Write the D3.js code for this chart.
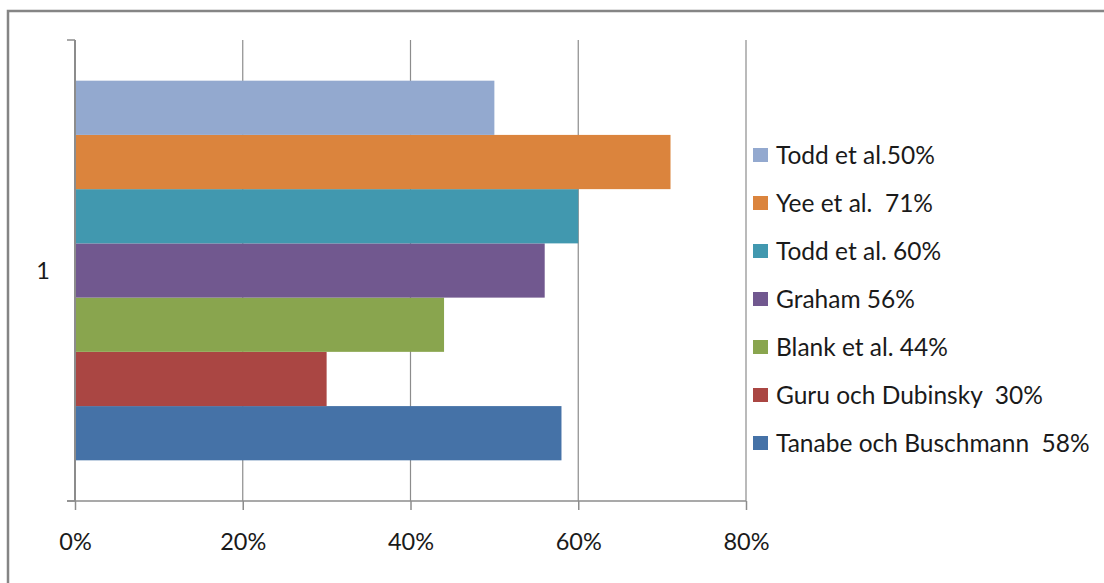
<!DOCTYPE html>
<html>
  <head>
    <meta charset="utf-8">
    <title>Studier</title>
    <script src="https://d3js.org/d3.v7.min.js"></script>
    <style>
      body { margin: 0; background: #fff; }
      svg text { font-family: Lato, "Open Sans", sans-serif; fill: #1a1a1a; }
    </style>
  </head>
  <body>
    <svg width="1104" height="583"></svg>
    <script>
    // series in Excel order: first one is drawn at the bottom
    var series = ["Tanabe och Buschmann  58%", "Guru och Dubinsky  30%", "Blank et al. 44%",
                  "Graham 56%", "Todd et al. 60%", "Yee et al.  71%", "Todd et al.50%"];
    var values = [0.58, 0.30, 0.44, 0.56, 0.60, 0.71, 0.50];
    var colors = ["#4572A7", "#AA4643", "#89A54E", "#71588F", "#4198AF", "#DB843D", "#93A9CF"];
    var categories = ["1"];
    var xTicks = [0, 0.2, 0.4, 0.6, 0.8];

    var svg = d3.select("svg");

    //outer chart border (right and bottom fall outside the picture)
    svg.append("rect")
        .attr("x", 8).attr("y", 11)
        .attr("width", 1110).attr("height", 590)
        .attr("fill", "#fff")
        .attr("stroke", "#858585")
        .attr("stroke-width", 2.5);

    var axisColor = "#8c8c8c";

    //scales
    var x = d3.scaleLinear().domain([0, 0.8]).range([75, 746]);
    var y0 = d3.scaleBand().domain(categories).range([40, 501]);
    var y1 = d3.scaleBand()
        .domain(series.slice().reverse())
        .range([0, y0.bandwidth()])
        .paddingInner(0)
        .paddingOuter(0.75);

    //vertical gridlines
    svg.append("g")
      .selectAll("line")
      .data(xTicks.slice(1))
      .enter().append("line")
        .attr("x1", function(d) { return x(d); })
        .attr("x2", function(d) { return x(d); })
        .attr("y1", 40).attr("y2", 501)
        .attr("stroke", axisColor)
        .attr("stroke-width", 1.2);

    //bars
    var data = series.map(function(s, i) { return {key: s, value: values[i], color: colors[i]}; });
    svg.append("g")
        .attr("transform", "translate(0," + y0("1") + ")")
      .selectAll("rect")
      .data(data)
      .enter().append("rect")
        .attr("x", x(0))
        .attr("y", function(d) { return y1(d.key); })
        .attr("width", function(d) { return x(d.value) - x(0); })
        .attr("height", y1.bandwidth())
        .attr("fill", function(d) { return d.color; });

    //x axis
    var xAxis = svg.append("g")
        .attr("transform", "translate(0,501)")
        .call(d3.axisBottom(x).tickValues(xTicks).tickFormat(d3.format(".0%")).tickSizeInner(9).tickSizeOuter(0).tickPadding(23));
    xAxis.select(".domain").remove();
    xAxis.append("line")
        .attr("x1", 67).attr("x2", x(0.8))
        .attr("stroke", axisColor).attr("stroke-width", 1.5);
    xAxis.selectAll(".tick line").attr("stroke", axisColor).attr("stroke-width", 1.5);
    xAxis.selectAll("text")
        .attr("font-size", 23.5)
        .attr("font-family", "Lato, 'Open Sans', sans-serif")
        .attr("fill", "#1a1a1a");

    //y axis
    var yAxis = svg.append("g")
        .attr("transform", "translate(75,0)");
    yAxis.append("line")
        .attr("y1", 40).attr("y2", 501)
        .attr("stroke", axisColor).attr("stroke-width", 2);
    yAxis.selectAll("line.edge")
      .data(y0.range())
      .enter().append("line")
        .attr("class", "edge")
        .attr("x1", -8).attr("x2", 0)
        .attr("y1", function(d) { return d; })
        .attr("y2", function(d) { return d; })
        .attr("stroke", axisColor).attr("stroke-width", 1.5);
    yAxis.selectAll("text")
      .data(categories)
      .enter().append("text")
        .attr("x", -32)
        .attr("y", function(d) { return y0(d) + y0.bandwidth() / 2; })
        .attr("dy", "0.35em")
        .attr("text-anchor", "middle")
        .attr("font-size", 23.5)
        .text(function(d) { return d; });

    //legend, same order as the bars top to bottom
    var legend = svg.append("g")
      .selectAll("g")
      .data(data.slice().reverse())
      .enter().append("g")
        .attr("transform", function(d, i) { return "translate(753," + (155 + i * 48) + ")"; });

    legend.append("rect")
        .attr("y", -7)
        .attr("width", 15)
        .attr("height", 14)
        .attr("fill", function(d) { return d.color; });

    legend.append("text")
        .attr("x", 23)
        .attr("dy", "0.36em")
        .attr("font-size", 24.5)
        .style("white-space", "pre")
        .text(function(d) { return d.key; });
    </script>
  </body>
</html>
